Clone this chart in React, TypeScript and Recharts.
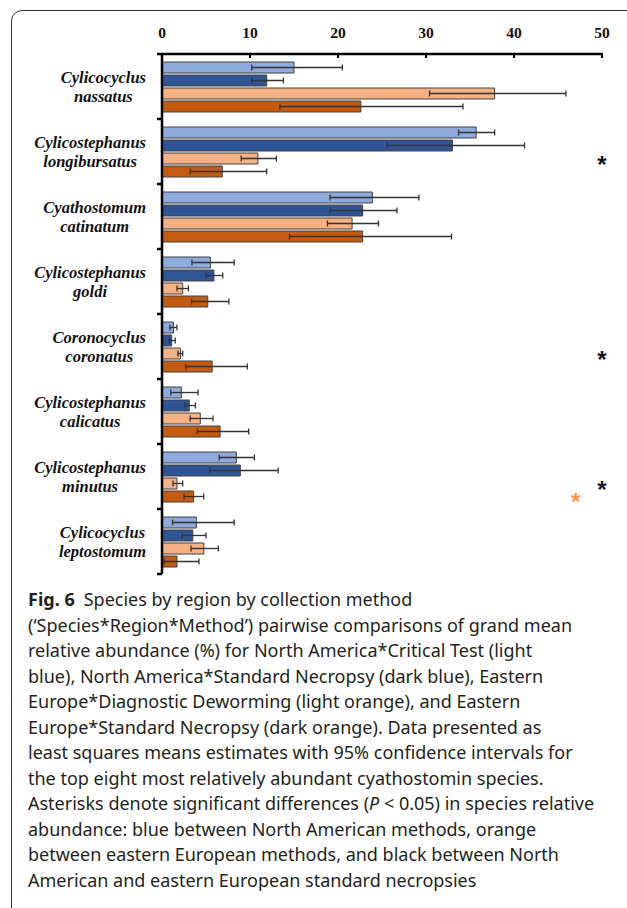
import React from 'react';
import { BarChart, Bar, XAxis, YAxis, ErrorBar, ReferenceDot } from 'recharts';

const species = [
  'Cylicocyclus nassatus',
  'Cylicostephanus longibursatus',
  'Cyathostomum catinatum',
  'Cylicostephanus goldi',
  'Coronocyclus coronatus',
  'Cylicostephanus calicatus',
  'Cylicostephanus minutus',
  'Cylicocyclus leptostomum',
];

const valueTicks = [0, 10, 20, 30, 40, 50];

// least squares means + 95% CI
const naCritical = [15.0, 35.7, 23.9, 5.5, 1.3, 2.2, 8.45, 3.9];
const naCriticalLow = [10.2, 33.7, 19.1, 3.4, 0.9, 1.0, 6.5, 1.2];
const naCriticalHigh = [20.5, 37.8, 29.2, 8.2, 1.7, 4.1, 10.5, 8.2];

const naNecropsy = [11.9, 33.0, 22.8, 5.9, 1.1, 3.1, 8.9, 3.5];
const naNecropsyLow = [10.2, 25.6, 19.1, 5.0, 0.8, 2.6, 5.4, 2.3];
const naNecropsyHigh = [13.8, 41.2, 26.7, 6.9, 1.5, 3.8, 13.2, 5.0];

const eeDeworming = [37.8, 10.9, 21.6, 2.35, 2.1, 4.35, 1.7, 4.75];
const eeDewormingLow = [30.4, 9.0, 18.8, 1.7, 1.8, 3.2, 1.25, 3.3];
const eeDewormingHigh = [45.9, 13.0, 24.6, 3.0, 2.35, 5.8, 2.35, 6.4];

const eeNecropsy = [22.6, 6.85, 22.8, 5.2, 5.7, 6.6, 3.6, 1.7];
const eeNecropsyLow = [13.4, 3.2, 14.5, 3.35, 2.7, 4.0, 2.5, 0.25];
const eeNecropsyHigh = [34.2, 11.9, 32.9, 7.6, 9.7, 9.85, 4.75, 4.2];

// significance asterisks
const blackStar = [false, true, false, false, true, false, true, false];
const orangeStar = [false, false, false, false, false, false, true, false];
const blackStarX = 50;
const orangeStarX = 47;

const series = [
  { key: 'naCritical', values: naCritical, low: naCriticalLow, high: naCriticalHigh, color: '#8faadc' },
  { key: 'naNecropsy', values: naNecropsy, low: naNecropsyLow, high: naNecropsyHigh, color: '#2f5597' },
  { key: 'eeDeworming', values: eeDeworming, low: eeDewormingLow, high: eeDewormingHigh, color: '#f4b183' },
  { key: 'eeNecropsy', values: eeNecropsy, low: eeNecropsyLow, high: eeNecropsyHigh, color: '#c55a11' },
];

const data = species.map((name, i) => {
  const row: Record<string, any> = { name };
  series.forEach(s => {
    row[s.key] = s.values[i];
    row[s.key + 'Err'] = [s.values[i] - s.low[i], s.high[i] - s.values[i]];
  });
  return row;
});

const CHART_W = 627;
const CHART_H = 590;
const MARGIN = { top: 24, right: 25, bottom: 16, left: 12 };
const X_AXIS_H = 30;
const Y_AXIS_W = 150;
const PLOT_H = CHART_H - MARGIN.top - MARGIN.bottom - X_AXIS_H;
const BAND = PLOT_H / species.length;
const Y_TICK_MARGIN = 16;
const X_TICK_MARGIN = 12;

const serif = '"Liberation Serif", "Times New Roman", serif';
const LABEL_FONT = `italic bold 16.5px ${serif}`;

let measureCtx: CanvasRenderingContext2D | null = null;
function measure(text: string) {
  if (!measureCtx) measureCtx = document.createElement('canvas').getContext('2d');
  if (!measureCtx) return text.length * 7;
  measureCtx.font = LABEL_FONT;
  return measureCtx.measureText(text).width;
}

function SpeciesTick(props: any) {
  const { x, y, payload, index } = props;
  const lines = String(payload.value).split(' ');
  const w = Math.max(...lines.map(measure));
  const cx = x - w / 2;
  const axisX = x + Y_TICK_MARGIN;
  return (
    <g>
      <text textAnchor="middle" fontFamily={serif} fontStyle="italic" fontWeight="bold" fontSize={16.5} fill="#111">
        <tspan x={cx} y={y - 4}>{lines[0]}</tspan>
        <tspan x={cx} y={y + 15}>{lines[1]}</tspan>
      </text>
      <line x1={axisX - 5} x2={axisX} y1={y + BAND / 2} y2={y + BAND / 2} stroke="#000" strokeWidth={2.5} />
      {index === 0 && (
        <line x1={axisX - 5} x2={axisX} y1={y - BAND / 2} y2={y - BAND / 2} stroke="#000" strokeWidth={2.5} />
      )}
    </g>
  );
}

function ValueTick(props: any) {
  const { x, y, payload } = props;
  const axisY = y + X_TICK_MARGIN;
  return (
    <g>
      <text x={x} y={axisY - 16} textAnchor="middle" fontFamily={serif} fontWeight="bold" fontSize={15.5} fill="#111">
        {payload.value}
      </text>
      <line x1={x} x2={x} y1={axisY - 1} y2={axisY + 4} stroke="#000" strokeWidth={2} />
    </g>
  );
}

function Star(color: string, dy: number) {
  return (p: any) => (
    <text x={p.cx} y={p.cy + dy} textAnchor="middle" fontFamily='"Liberation Sans", Arial, sans-serif' fontWeight="bold" fontSize={24} fill={color}>
      *
    </text>
  );
}

const captionLines: React.ReactNode[] = [
  <><b>Fig. 6</b>{'\u2002'}Species by region by collection method</>,
  '(\u2018Species*Region*Method\u2019) pairwise comparisons of grand mean',
  'relative abundance (%) for North America*Critical Test (light',
  'blue), North America*Standard Necropsy (dark blue), Eastern',
  'Europe*Diagnostic Deworming (light orange), and Eastern',
  'Europe*Standard Necropsy (dark orange). Data presented as',
  'least squares means estimates with 95% confidence intervals for',
  'the top eight most relatively abundant cyathostomin species.',
  <>Asterisks denote significant differences (<i>P</i> &lt; 0.05) in species relative</>,
  'abundance: blue between North American methods, orange',
  'between eastern European methods, and black between North',
  'American and eastern European standard necropsies',
];

export default function App() {
  return (
    <div style={{ position: 'absolute', left: 0, top: 0, width: 627, height: 908, overflow: 'hidden', background: '#fff' }}>
      <div
        style={{
          position: 'absolute',
          left: 11,
          top: 10,
          width: 640,
          height: 920,
          border: '1.2px solid #333',
          borderTopLeftRadius: 11,
          boxSizing: 'border-box',
        }}
      />
      <div style={{ position: 'absolute', left: 0, top: 0 }}>
        <BarChart
          width={CHART_W}
          height={CHART_H}
          data={data}
          layout="vertical"
          margin={MARGIN}
          barCategoryGap={8}
          barGap={2}
        >
          <XAxis
            type="number"
            orientation="top"
            domain={[0, 50]}
            ticks={valueTicks}
            height={X_AXIS_H}
            axisLine={{ stroke: '#000', strokeWidth: 2.5 }}
            tickLine={false}
            tickSize={0}
            tickMargin={X_TICK_MARGIN}
            tick={<ValueTick />}
            interval={0}
          />
          <YAxis
            type="category"
            dataKey="name"
            width={Y_AXIS_W}
            axisLine={{ stroke: '#000', strokeWidth: 2.5 }}
            tickLine={false}
            tickSize={0}
            tickMargin={Y_TICK_MARGIN}
            tick={<SpeciesTick />}
            interval={0}
          />
          {series.map(s => (
            <Bar key={s.key} dataKey={s.key} fill={s.color} stroke="#404040" strokeWidth={1} isAnimationActive={false}>
              <ErrorBar dataKey={s.key + 'Err'} direction="x" width={3} stroke="#333" strokeWidth={1.3} isAnimationActive={false} />
            </Bar>
          ))}
          {species.map((name, i) =>
            blackStar[i] ? (
              <ReferenceDot key={'b' + i} x={blackStarX} y={name} r={0} ifOverflow="visible" shape={Star('#141428', 21)} />
            ) : null
          )}
          {species.map((name, i) =>
            orangeStar[i] ? (
              <ReferenceDot key={'o' + i} x={orangeStarX} y={name} r={0} ifOverflow="visible" shape={Star('#f79646', 33)} />
            ) : null
          )}
        </BarChart>
      </div>
      <div
        style={{
          position: 'absolute',
          left: 28,
          top: 587,
          fontFamily: '"Noto Sans", "Open Sans", sans-serif',
          fontSize: 18,
          lineHeight: '25.5px',
          color: '#231f20',
          whiteSpace: 'nowrap',
        }}
      >
        {captionLines.map((l, i) => (
          <div key={i}>{l}</div>
        ))}
      </div>
    </div>
  );
}
